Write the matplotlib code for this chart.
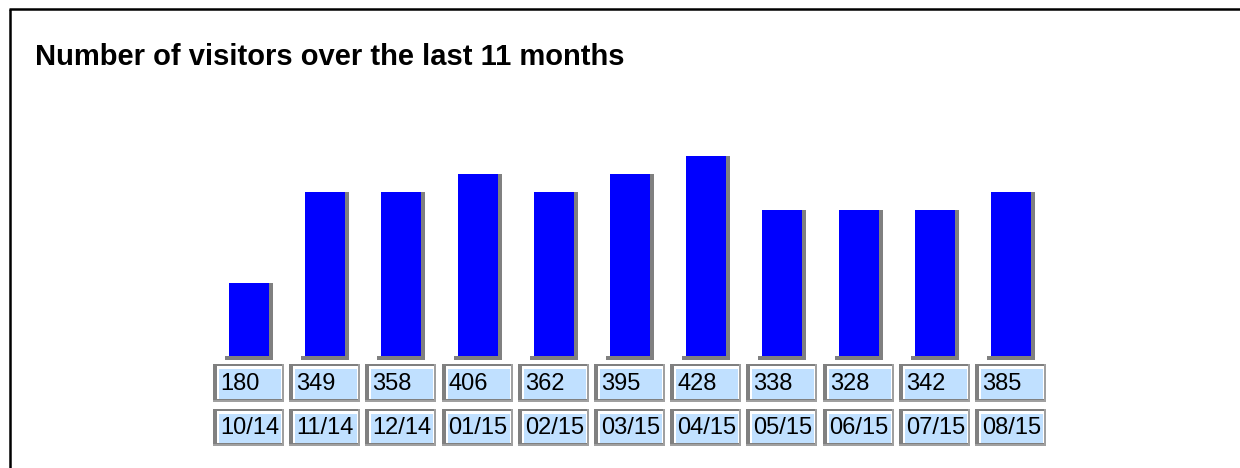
import matplotlib.pyplot as plt
from matplotlib.patches import Rectangle
from matplotlib.lines import Line2D

title = "Number of visitors over the last 11 months"
months = ["10/14", "11/14", "12/14", "01/15", "02/15", "03/15",
          "04/15", "05/15", "06/15", "07/15", "08/15"]
visitors = [180, 349, 358, 406, 362, 395, 428, 338, 328, 342, 385]
# drawn bar height in steps (the bars are stepped)
bar_levels = [4, 9, 9, 10, 9, 10, 11, 8, 8, 8, 9]

W, H = 1240, 468
pitch = 76.2      # px between bars
unit = 18.2       # px per bar step
px = 1 / pitch    # one pixel in x data units

fig = plt.figure(figsize=(W / 100, H / 100), dpi=100)
fig.patch.set_facecolor("white")

# frame: left and top black lines
fig.add_artist(Line2D([9.5 / W, 9.5 / W], [0, 1 - 9 / H], color="black", lw=1.8,
                      transform=fig.transFigure, solid_capstyle="butt"))
fig.add_artist(Line2D([8.5 / W, 1], [1 - 9 / H, 1 - 9 / H], color="black", lw=1.8,
                      transform=fig.transFigure, solid_capstyle="butt"))

fig.text(35 / W, 1 - 57 / H, title, fontsize=21, fontweight="bold",
         family="Liberation Sans", va="center", ha="left")

# bars
x0 = 249 - 0.5 * pitch
ybot = -0.3
ax = fig.add_axes([x0 / W, (112 + ybot * unit) / H, 11 * pitch / W, (12 - ybot) * unit / H])
ax.set_xlim(-0.5, 10.5)
ax.set_ylim(ybot, 12)
ax.axis("off")

xs = list(range(len(months)))
bw = 40 * px
dx = 4 * px
dy = 4 / unit
ax.bar([x + bw / 2 + dx / 2 for x in xs], [h + dy for h in bar_levels], bottom=-dy,
       width=dx, color="#808080", linewidth=0)
ax.bar(xs, dy, bottom=-dy, width=bw + 2 * dx, color="#808080", linewidth=0)
ax.bar(xs, bar_levels, width=bw, color="#0000ff", linewidth=0)

# label boxes (y in image pixels)
tb = fig.add_axes([x0 / W, (H - 450) / H, 11 * pitch / W, 90 / H])
tb.set_xlim(-0.5, 10.5)
tb.set_ylim(450, 360)
tb.axis("off")


def box(cx, top, bottom, label):
    l = cx - 36 * px
    r = cx + 35 * px
    tb.add_patch(Rectangle((l, top), r - l, bottom - top, facecolor="#a0a0a0", lw=0))
    tb.add_patch(Rectangle((l, top), r - l - 2 * px, bottom - top - 2, facecolor="#808080", lw=0))
    tb.add_patch(Rectangle((l + 4 * px, top + 2), r - l - 6 * px, bottom - top - 5,
                           facecolor="white", lw=0))
    tb.add_patch(Rectangle((l + 6 * px, top + 5), r - l - 9 * px, bottom - top - 8,
                           facecolor="#c0e0ff", lw=0))
    tb.text(l + 7 * px, (top + bottom) / 2 + 1, label, fontsize=17, family="Liberation Sans",
            va="center", ha="left", color="black")


for x, v, m in zip(xs, visitors, months):
    box(x, 364, 402, str(v))
    box(x, 409, 446, m)

fig.savefig("out.png", dpi=100, facecolor="white")
